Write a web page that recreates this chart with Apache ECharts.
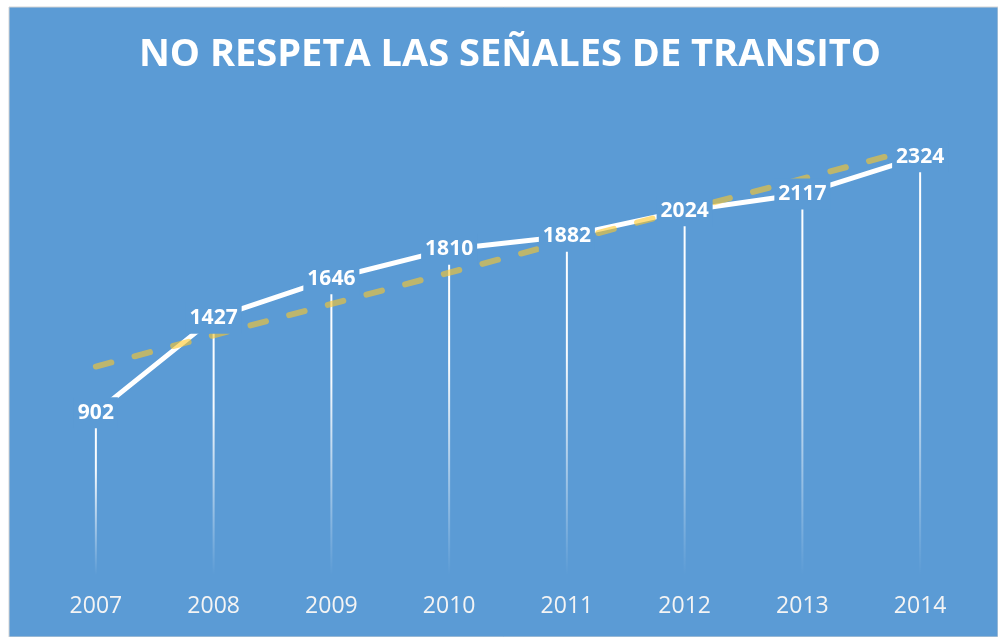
<!DOCTYPE html>
<html>
<head>
<meta charset="utf-8">
<script src="https://cdn.jsdelivr.net/npm/echarts@6/dist/echarts.min.js"></script>
<style>
  html, body { margin: 0; padding: 0; background: #fff; }
  #chart { width: 998px; height: 637px; }
</style>
</head>
<body>
<div id="chart"></div>
<script>
const years = ['2007', '2008', '2009', '2010', '2011', '2012', '2013', '2014']
const infracciones = [902, 1427, 1646, 1810, 1882, 2024, 2117, 2324]
const trendStart = 1158
const trendEnd = 2375

const blue = '#5B9BD5'
const font = 'Open Sans'

const chart = echarts.init(document.getElementById('chart'))
const option = {
  backgroundColor: '#ffffff',
  animation: false,
  graphic: [{
    type: 'rect',
    z: -10,
    shape: { x: 9, y: 7, width: 989, height: 630 },
    style: { fill: blue, stroke: '#d4d4d4', lineWidth: 1 }
  }],
  title: {
    text: 'NO RESPETA LAS SEÑALES DE TRANSITO',
    left: 505,
    textAlign: 'center',
    top: 31,
    textStyle: {
      color: '#ffffff',
      fontFamily: font,
      fontWeight: 'bold',
      fontSize: 38
    }
  },
  grid: {
    left: 37,
    right: 19,
    top: 125,
    bottom: 62
  },
  xAxis: {
    type: 'category',
    data: years,
    axisLine: { show: false },
    axisTick: { show: false },
    axisLabel: {
      color: '#f4f4f4',
      fontFamily: font,
      fontSize: 23,
      margin: 20
    }
  },
  yAxis: {
    type: 'value',
    min: 0,
    max: 2500,
    show: false,
    splitLine: { show: false }
  },
  series: [
    {
      // lineas verticales desde cada punto
      type: 'bar',
      data: infracciones,
      barWidth: 2,
      z: 1,
      itemStyle: {
        color: new echarts.graphic.LinearGradient(0, 0, 0, 1, [
          { offset: 0, color: 'rgba(255,255,255,1)' },
          { offset: 0.35, color: 'rgba(255,255,255,0.95)' },
          { offset: 1, color: 'rgba(255,255,255,0)' }
        ])
      }
    },
    {
      type: 'line',
      data: infracciones,
      z: 2,
      symbol: 'none',
      lineStyle: { color: '#ffffff', width: 5 }
    },
    {
      type: 'line',
      data: [[years[0], trendStart], [years[years.length - 1], trendEnd]],
      z: 3,
      symbol: 'none',
      lineStyle: {
        color: 'rgba(255,200,40,0.6)',
        width: 6,
        type: [16, 24],
        cap: 'round'
      }
    },
    {
      // etiquetas con fondo, por encima de todo
      type: 'line',
      data: infracciones,
      z: 4,
      symbolSize: 0,
      lineStyle: { width: 0, opacity: 0 },
      label: {
        show: true,
        position: 'inside',
        color: '#ffffff',
        fontFamily: font,
        fontWeight: 'bold',
        fontSize: 21,
        backgroundColor: blue,
        padding: [5, 4]
      }
    }
  ]
}
chart.setOption(option)
</script>
</body>
</html>
